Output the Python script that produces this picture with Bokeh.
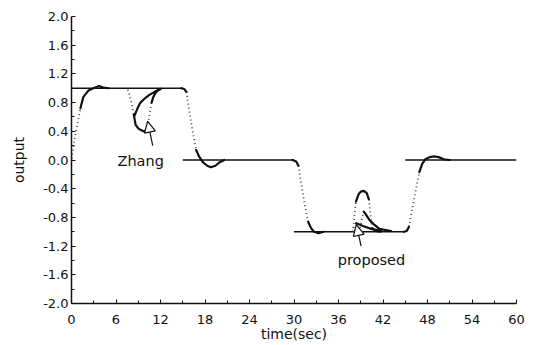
from bokeh.plotting import figure
from bokeh.models import Range1d, FixedTicker, Label, Arrow, NormalHead
from bokeh.embed import file_html
from bokeh.resources import INLINE

# ---- setpoint levels (horizontal pieces) ----
ref_start = [0, 15, 30, 45]
ref_end = [15, 30, 45, 60]
ref_level = [1.0, 0.0, -1.0, 0.0]

# ---- step responses: slow (solid) and fast (dotted) pieces ----
rise0_fast_t = [0.05, 0.5, 0.95, 1.2]
rise0_fast_y = [0.02, 0.35, 0.58, 0.72]
rise0_slow_t = [1.2, 1.6, 2.3, 3.2, 3.7, 4.3, 5.0]
rise0_slow_y = [0.72, 0.88, 0.97, 1.01, 1.03, 1.01, 1.0]

fall15_corner_t = [14.8, 15.2, 15.5]
fall15_corner_y = [1.0, 0.99, 0.95]
fall15_fast_t = [15.5, 15.8, 16.3, 16.8]
fall15_fast_y = [0.95, 0.74, 0.42, 0.14]
fall15_slow_t = [16.8, 17.2, 17.7, 18.3, 18.8, 19.4, 20.0, 20.6]
fall15_slow_y = [0.14, 0.05, -0.03, -0.08, -0.1, -0.08, -0.03, 0.0]

fall30_corner_t = [29.8, 30.3, 30.6]
fall30_corner_y = [0.0, -0.02, -0.08]
fall30_fast_t = [30.6, 31.0, 31.5, 31.9]
fall30_fast_y = [-0.08, -0.35, -0.65, -0.86]
fall30_slow_t = [31.9, 32.3, 32.7, 33.3, 34.0]
fall30_slow_y = [-0.86, -0.95, -1.0, -1.02, -1.0]

rise45_corner_t = [44.8, 45.2, 45.5]
rise45_corner_y = [-1.0, -0.99, -0.93]
rise45_fast_t = [45.5, 46.0, 46.5, 46.9]
rise45_fast_y = [-0.93, -0.65, -0.38, -0.17]
rise45_slow_t = [46.9, 47.3, 47.7, 48.3, 48.9, 49.5, 50.2, 51.0]
rise45_slow_y = [-0.17, -0.05, 0.01, 0.04, 0.05, 0.04, 0.01, 0.0]

# ---- disturbance responses, Zhang ----
zhang1_fall_t = [7.6, 7.9, 8.2, 8.4]
zhang1_fall_y = [0.98, 0.88, 0.74, 0.63]
zhang1_dip_t = [8.4, 8.65, 9.0, 9.3, 9.7, 10.0, 10.3]
zhang1_dip_y = [0.63, 0.49, 0.44, 0.42, 0.40, 0.41, 0.45]
zhang1_rise_t = [10.3, 10.45, 10.6, 10.8]
zhang1_rise_y = [0.45, 0.58, 0.7, 0.8]
zhang1_tail_t = [10.8, 11.0, 11.3, 11.6, 12.0]
zhang1_tail_y = [0.8, 0.87, 0.93, 0.97, 0.99]
zhang2_tail_t = [8.5, 8.9, 9.3, 9.8, 10.4, 11.2, 12.0]
zhang2_tail_y = [0.62, 0.72, 0.8, 0.85, 0.9, 0.95, 0.99]

# ---- disturbance responses, proposed ----
prop1_rise_t = [37.9, 38.05, 38.2, 38.35]
prop1_rise_y = [-1.0, -0.88, -0.72, -0.58]
prop1_peak_t = [38.35, 38.7, 39.0, 39.4, 39.8, 40.1]
prop1_peak_y = [-0.58, -0.48, -0.44, -0.43, -0.46, -0.55]
prop1_fall_t = [40.1, 40.25, 40.4, 40.55]
prop1_fall_y = [-0.55, -0.7, -0.84, -0.95]
prop1_tail_t = [40.55, 41.0, 41.6]
prop1_tail_y = [-0.95, -0.99, -1.0]
prop2_rise_t = [37.9, 38.1, 38.4]
prop2_rise_y = [-1.0, -0.94, -0.88]
prop2_tail_t = [38.4, 39.3, 40.4, 41.8]
prop2_tail_y = [-0.88, -0.92, -0.96, -0.99]
prop3_rise_t = [38.8, 39.1, 39.4]
prop3_rise_y = [-1.0, -0.85, -0.72]
prop3_tail_t = [39.4, 39.7, 40.2, 40.7, 41.5, 43.1]
prop3_tail_y = [-0.72, -0.76, -0.84, -0.89, -0.96, -0.99]

# ---- axis ticks ----
x_ticks = [0, 6, 12, 18, 24, 30, 36, 42, 48, 54, 60]
x_minor = [3, 9, 15, 21, 27, 33, 39, 45, 51, 57]
y_ticks = [-2.0, -1.6, -1.2, -0.8, -0.4, 0.0, 0.4, 0.8, 1.2, 1.6, 2.0]
y_tick_labels = ["-2.0", "-1.6", "-1.2", "-0.8", "-0.4", "0.0",
                 "0.4", "0.8", "1.2", "1.6", "2.0"]
y_minor = [-1.8, -1.4, -1.0, -0.6, -0.2, 0.2, 0.6, 1.0, 1.4, 1.8]

FONT = "DejaVu Sans"
INK = "#111111"

p = figure(width=534, height=345, output_backend="svg", toolbar_location=None,
           x_range=Range1d(0, 60), y_range=Range1d(-2, 2),
           min_border_left=71, min_border_right=18,
           min_border_top=16, min_border_bottom=42)
p.grid.visible = False
p.outline_line_color = None
p.background_fill_color = "white"
p.border_fill_color = "white"

# setpoint
p.segment(x0=ref_start, y0=ref_level, x1=ref_end, y1=ref_level,
          line_color=INK, line_width=1.6)

solid_xs = [rise0_slow_t, fall15_corner_t, fall15_slow_t, fall30_corner_t,
            fall30_slow_t, rise45_corner_t, rise45_slow_t,
            zhang1_dip_t, zhang1_tail_t, zhang2_tail_t,
            prop1_peak_t, prop1_tail_t, prop2_tail_t, prop3_tail_t]
solid_ys = [rise0_slow_y, fall15_corner_y, fall15_slow_y, fall30_corner_y,
            fall30_slow_y, rise45_corner_y, rise45_slow_y,
            zhang1_dip_y, zhang1_tail_y, zhang2_tail_y,
            prop1_peak_y, prop1_tail_y, prop2_tail_y, prop3_tail_y]
dotted_xs = [rise0_fast_t, fall15_fast_t, fall30_fast_t, rise45_fast_t,
             zhang1_fall_t, zhang1_rise_t,
             prop1_rise_t, prop1_fall_t, prop2_rise_t, prop3_rise_t]
dotted_ys = [rise0_fast_y, fall15_fast_y, fall30_fast_y, rise45_fast_y,
             zhang1_fall_y, zhang1_rise_y,
             prop1_rise_y, prop1_fall_y, prop2_rise_y, prop3_rise_y]

p.multi_line(xs=dotted_xs, ys=dotted_ys, line_color="#444444",
             line_width=1.7, line_dash="1 3")
p.multi_line(xs=solid_xs, ys=solid_ys, line_color=INK, line_width=2.2,
             line_join="round", line_cap="round")

# annotations
head_style = dict(size=11, fill_color="white", line_color=INK, line_width=1.2)
p.add_layout(Arrow(end=NormalHead(**head_style), x_start=10.95, y_start=0.2,
                   x_end=10.27, y_end=0.54, line_color=INK, line_width=1.2))
p.add_layout(Arrow(end=NormalHead(**head_style), x_start=39.05, y_start=-1.2,
                   x_end=38.4, y_end=-0.9, line_color=INK, line_width=1.2))
p.add_layout(Label(x=6.2, y=-0.02, text="Zhang", text_font=FONT,
                   text_font_size="14.5px", text_color=INK,
                   text_baseline="middle", text_align="left"))
p.add_layout(Label(x=35.9, y=-1.4, text="proposed", text_font=FONT,
                   text_font_size="14.5px", text_color=INK,
                   text_baseline="middle", text_align="left"))

# axes
for ax in (p.xaxis[0], p.yaxis[0]):
    ax.axis_line_color = INK
    ax.axis_line_width = 1.5
    ax.major_tick_line_color = INK
    ax.minor_tick_line_color = INK
    ax.major_tick_in = 4
    ax.major_tick_out = 0
    ax.minor_tick_in = 3
    ax.minor_tick_out = 0
    ax.major_label_text_font = FONT
    ax.major_label_text_font_size = "13px"
    ax.major_label_text_color = INK
    ax.axis_label_text_font = FONT
    ax.axis_label_text_font_size = "14px"
    ax.axis_label_text_font_style = "normal"
    ax.axis_label_text_color = INK

p.xaxis.ticker = FixedTicker(ticks=x_ticks, minor_ticks=x_minor)
p.xaxis.axis_label = "time(sec)"
p.xaxis.major_label_standoff = 11
p.xaxis.axis_label_standoff = -1

p.yaxis.ticker = FixedTicker(ticks=y_ticks, minor_ticks=y_minor)
p.yaxis.major_label_overrides = {t: s for t, s in zip(y_ticks, y_tick_labels)}
p.yaxis.axis_label = "output"
p.yaxis.major_label_standoff = 3
p.yaxis.axis_label_standoff = 13

open("out.html", "w").write(file_html(p, INLINE))
